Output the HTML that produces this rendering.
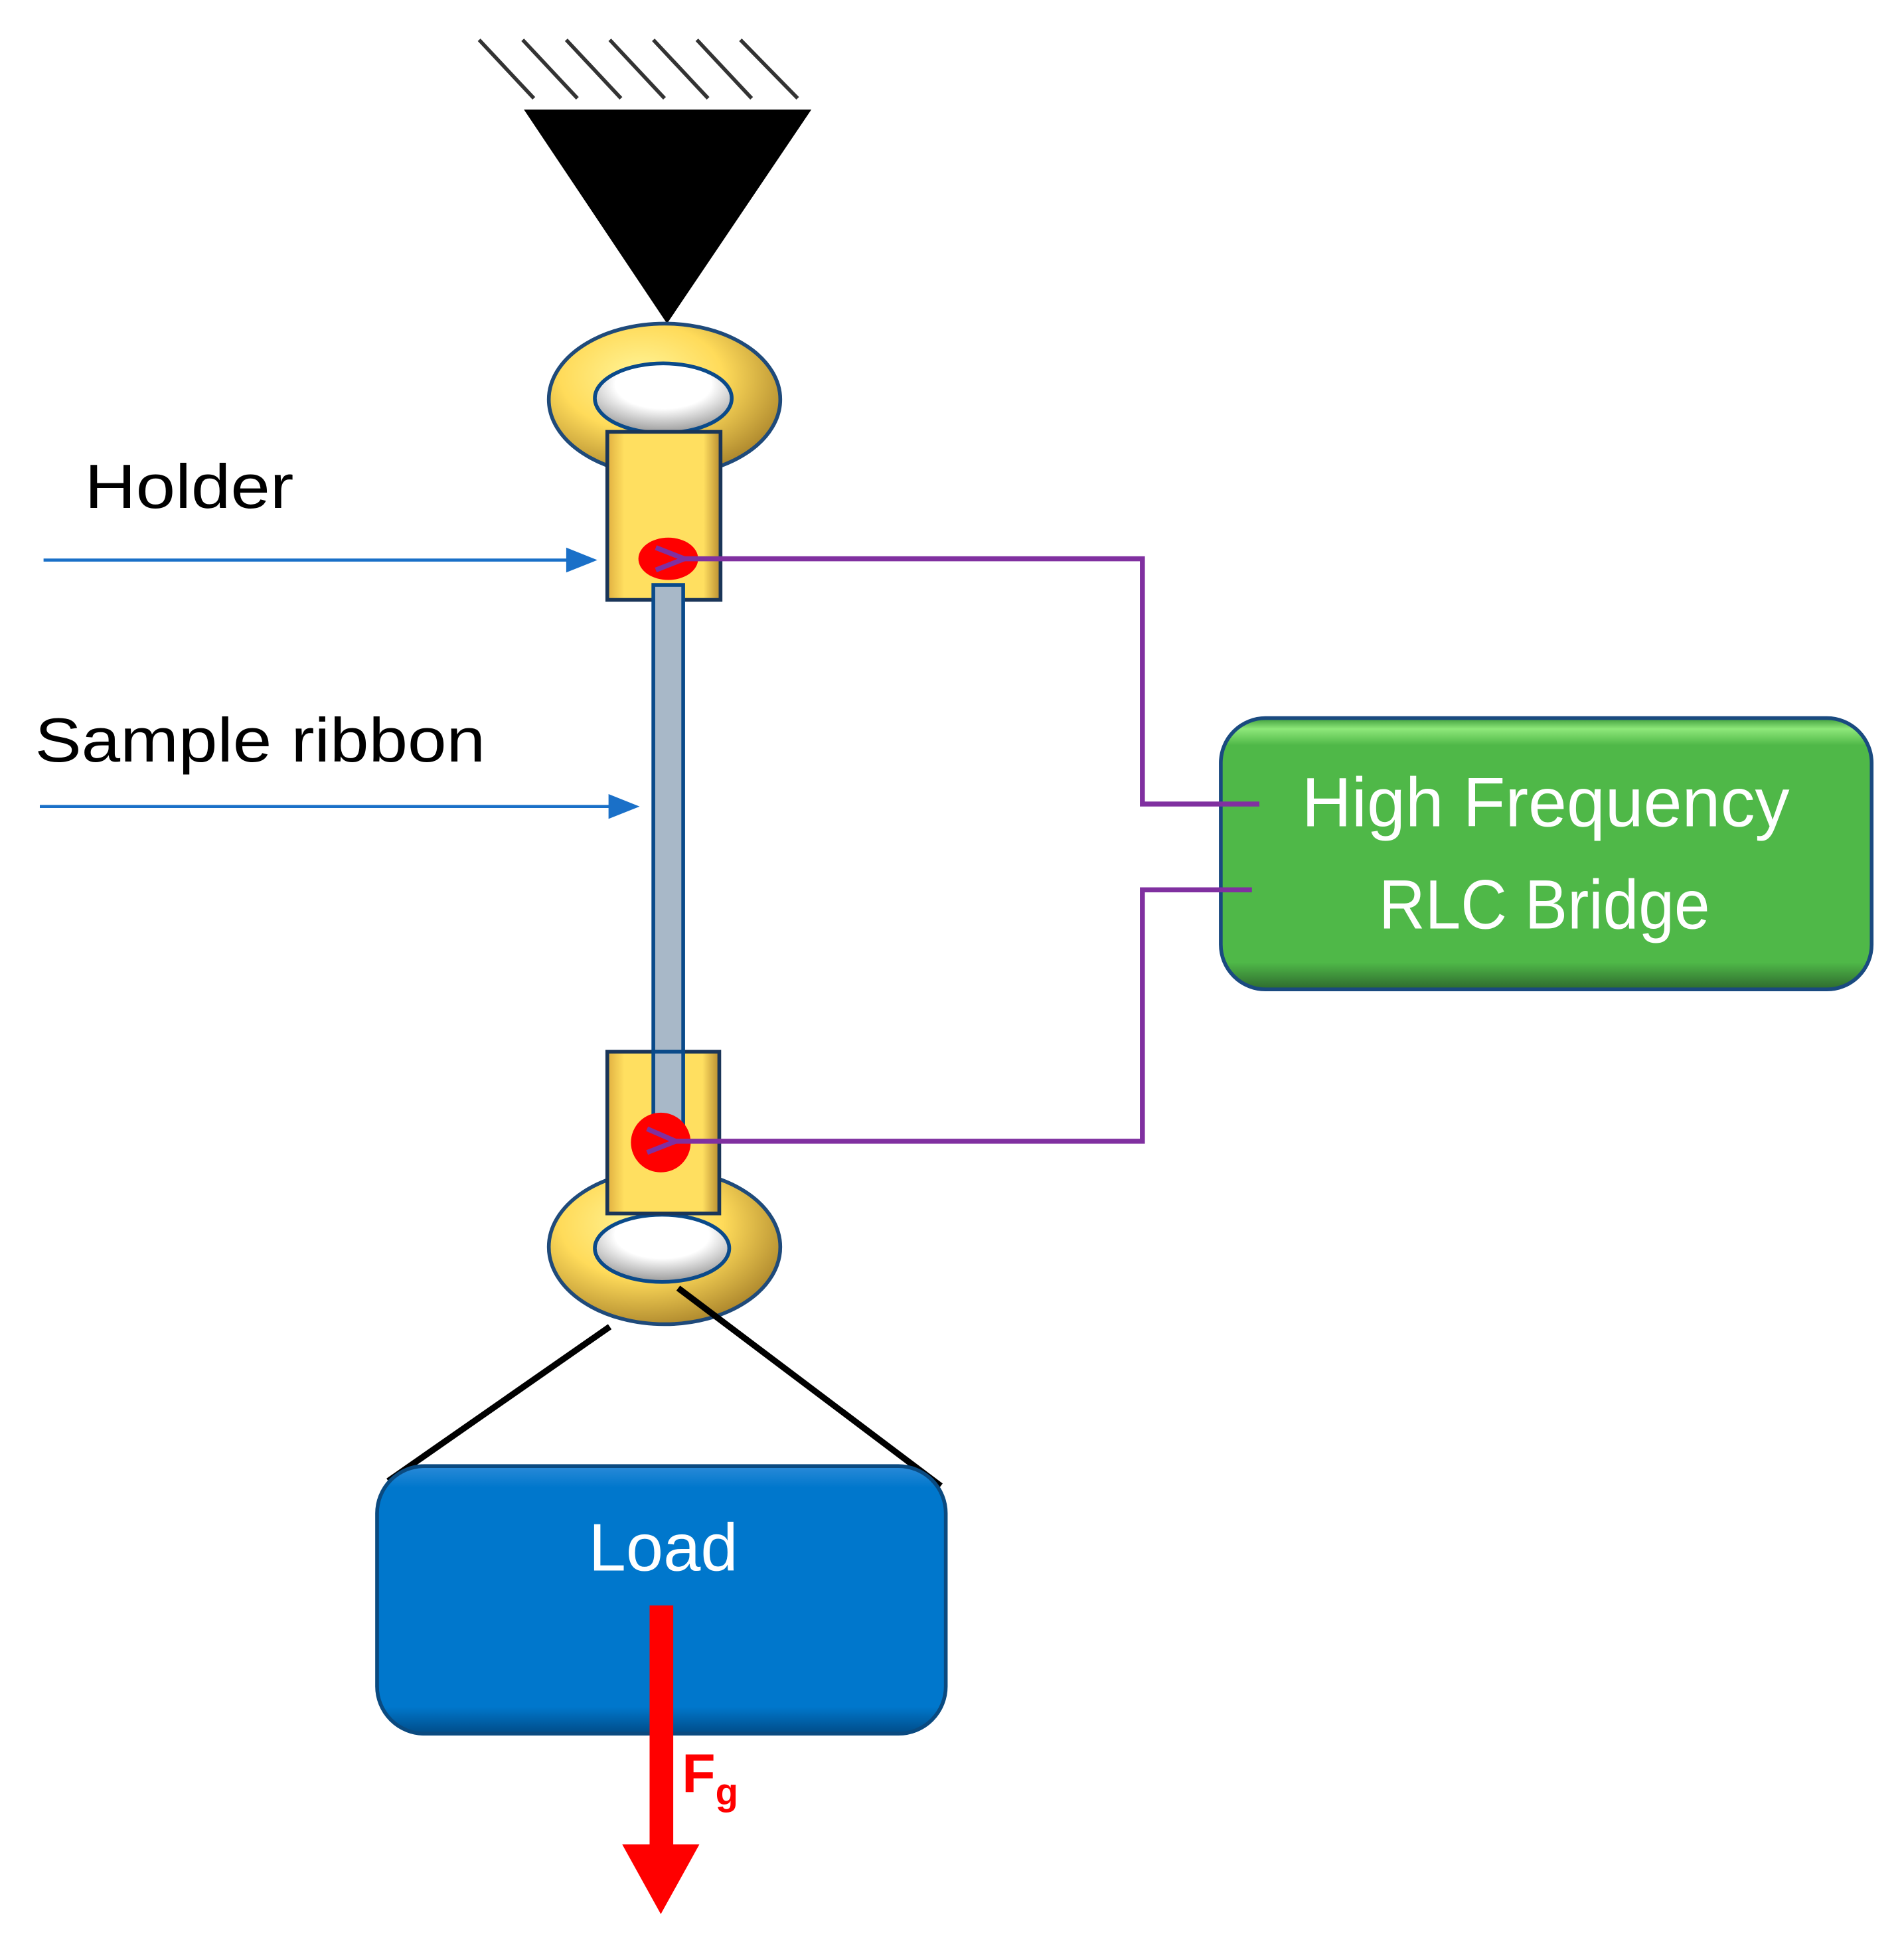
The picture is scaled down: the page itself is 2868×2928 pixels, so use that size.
<!DOCTYPE html>
<html><head><meta charset="utf-8"><style>html,body{margin:0;padding:0;background:#fff}svg{display:block}</style></head>
<body>
<svg width="2868" height="2928" viewBox="0 0 1530 1562" xmlns="http://www.w3.org/2000/svg" font-family="Liberation Sans, sans-serif">
<defs>
<radialGradient id="ring" cx="0.4" cy="0.35" r="0.7"><stop offset="0" stop-color="#fff59a"/><stop offset="0.5" stop-color="#ffdb5a"/><stop offset="1" stop-color="#a8822a"/></radialGradient>
<linearGradient id="hold" x1="0" y1="0" x2="1" y2="0"><stop offset="0" stop-color="#e0b040"/><stop offset="0.15" stop-color="#ffdf60"/><stop offset="0.85" stop-color="#ffdf60"/><stop offset="1" stop-color="#b88c30"/></linearGradient>
<radialGradient id="hole" cx="0.5" cy="0.3" r="0.7"><stop offset="0.5" stop-color="#fff"/><stop offset="1" stop-color="#999"/></radialGradient>
<linearGradient id="grn" x1="0" y1="0" x2="0" y2="1"><stop offset="0" stop-color="#3d9a3a"/><stop offset="0.04" stop-color="#8ee87a"/><stop offset="0.1" stop-color="#4fb848"/><stop offset="0.9" stop-color="#4fb848"/><stop offset="1" stop-color="#2e6a2e"/></linearGradient>
<linearGradient id="blu" x1="0" y1="0" x2="0" y2="1"><stop offset="0" stop-color="#2a8ad8"/><stop offset="0.08" stop-color="#0077cc"/><stop offset="0.9" stop-color="#0077cc"/><stop offset="1" stop-color="#004c88"/></linearGradient>
</defs>
<g stroke="#333" stroke-width="3">
<line x1="385" y1="32" x2="429" y2="79"/><line x1="420" y1="32" x2="464" y2="79"/><line x1="455" y1="32" x2="499" y2="79"/><line x1="490" y1="32" x2="534" y2="79"/><line x1="525" y1="32" x2="569" y2="79"/><line x1="560" y1="32" x2="604" y2="79"/><line x1="595" y1="32" x2="641" y2="79"/>
</g>
<polygon points="421,88 652,88 536,260" fill="#000"/>
<ellipse cx="534" cy="321" rx="93" ry="61" fill="url(#ring)" stroke="#1f4a7a" stroke-width="3"/>
<ellipse cx="533" cy="320" rx="55" ry="28" fill="url(#hole)" stroke="#0a4a8a" stroke-width="3"/>
<rect x="488" y="347" width="91" height="135" fill="url(#hold)" stroke="#1a3558" stroke-width="3"/>
<rect x="525" y="470" width="24" height="440" fill="#a8b8c8" stroke="#0a4a8a" stroke-width="3"/>
<ellipse cx="534" cy="1002" rx="93" ry="62" fill="url(#ring)" stroke="#1f4a7a" stroke-width="3"/>
<ellipse cx="532" cy="1003" rx="54" ry="27" fill="url(#hole)" stroke="#0a4a8a" stroke-width="3"/>
<rect x="488" y="845" width="90" height="130" fill="url(#hold)" stroke="#1a3558" stroke-width="3"/>
<rect x="525" y="845" width="24" height="70" fill="#a8b8c8" stroke="#0a4a8a" stroke-width="3"/>
<ellipse cx="537" cy="449" rx="24" ry="17" fill="#ff0000"/>
<circle cx="531" cy="918" r="24" fill="#ff0000"/>
<g stroke="#000" stroke-width="5"><line x1="490" y1="1066" x2="312" y2="1190"/><line x1="545" y1="1035" x2="756" y2="1194"/></g>
<rect x="981" y="577" width="523" height="218" rx="36" fill="url(#grn)" stroke="#1a4a80" stroke-width="3"/>
<text x="1242" y="664" font-size="56" fill="#fff" text-anchor="middle" textLength="392" lengthAdjust="spacingAndGlyphs">High Frequency</text>
<text x="1241" y="746" font-size="56" fill="#fff" text-anchor="middle" textLength="266" lengthAdjust="spacingAndGlyphs">RLC Bridge</text>
<g fill="none" stroke="#8030a0" stroke-width="4">
<polyline points="527,440 550,449 527,458"/>
<polyline points="550,449 918,449 918,646 1012,646"/>
<polyline points="520,907 543,917 520,926"/>
<polyline points="543,917 918,917 918,715 1006,715"/>
</g>
<rect x="303" y="1178" width="457" height="215" rx="38" fill="url(#blu)" stroke="#0a4a80" stroke-width="3"/>
<text x="533" y="1262" font-size="54" fill="#fff" text-anchor="middle" textLength="120" lengthAdjust="spacingAndGlyphs">Load</text>
<rect x="522" y="1290" width="19" height="195" fill="#ff0000"/>
<polygon points="500,1482 562,1482 531,1538" fill="#ff0000"/>
<text x="548" y="1440" font-size="44" font-weight="bold" fill="#ff0000">F<tspan font-size="30" dy="10">g</tspan></text>
<text x="68" y="408" font-size="50" fill="#000" textLength="168" lengthAdjust="spacingAndGlyphs">Holder</text>
<text x="28" y="612" font-size="50" fill="#000" textLength="362" lengthAdjust="spacingAndGlyphs">Sample ribbon</text>
<g stroke="#1a70c8" stroke-width="2.5"><line x1="35" y1="450" x2="462" y2="450"/><line x1="32" y1="648" x2="496" y2="648"/></g>
<polygon points="455,440 480,450 455,460" fill="#1a70c8"/>
<polygon points="489,638 514,648 489,658" fill="#1a70c8"/>
</svg>
</body></html>
